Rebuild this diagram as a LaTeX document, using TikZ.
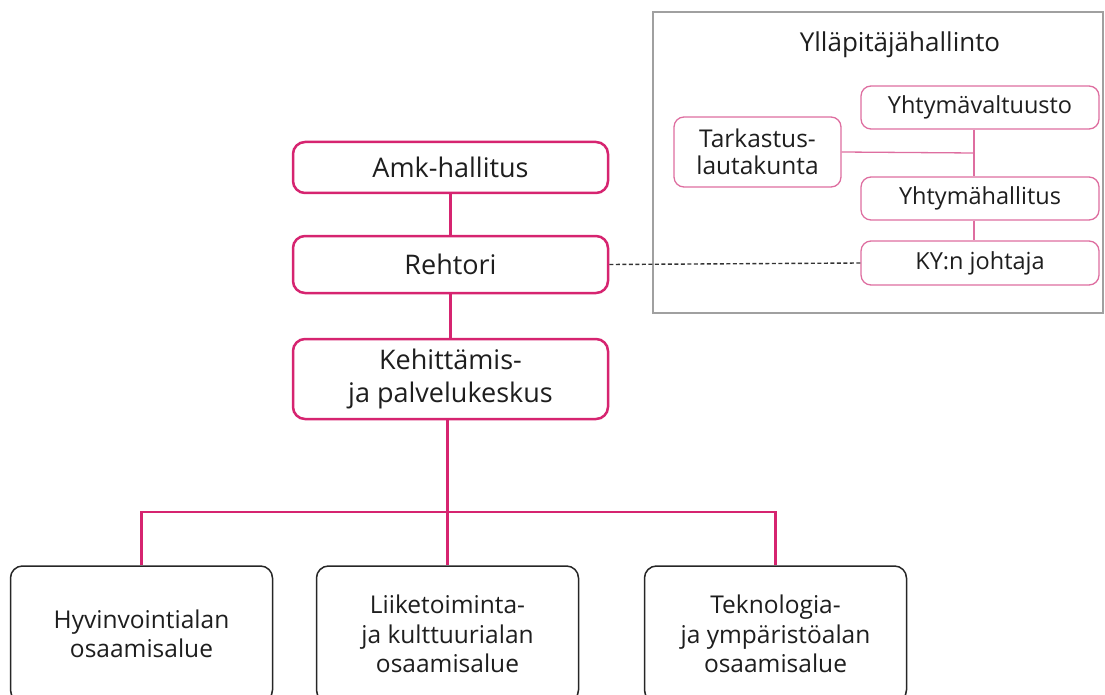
\documentclass[tikz,border=0pt]{standalone}
\usepackage{fontspec}
\setmainfont{Open Sans}
\definecolor{pinkline}{RGB}{214,36,112}
\definecolor{lightpink}{RGB}{222,110,160}
\definecolor{greybox}{RGB}{160,160,160}
\definecolor{txt}{RGB}{30,30,30}
\begin{document}
\begin{tikzpicture}[x=1pt,y=-1pt,
  mainbox/.style={draw=pinkline, line width=2.5pt, rounded corners=12pt, fill=white,
    minimum width=315pt, align=center, text=txt, inner sep=0pt,
    font=\fontsize{27}{33}\selectfont},
  subbox/.style={draw=lightpink, line width=1.3pt, rounded corners=10pt, fill=white,
    minimum width=238pt, minimum height=43pt, align=center, text=txt, inner sep=0pt,
    font=\fontsize{23.5}{27}\selectfont},
  areabox/.style={draw=black!85, line width=1.5pt, rounded corners=12pt, fill=white,
    minimum width=262pt, minimum height=136pt, align=center, text=txt, inner sep=0pt,
    font=\fontsize{24.5}{29.5}\selectfont},
  pinkconn/.style={draw=pinkline, line width=2.5pt},
  thinconn/.style={draw=lightpink, line width=1.3pt},
]
\useasboundingbox (0,0) rectangle (1105,695);
\clip (0,0) rectangle (1105,695);

% grey administration frame
\node[draw=greybox, line width=1.3pt, minimum width=450pt, minimum height=301pt, inner sep=0pt]
  (frame) at (878,162.5) {};
\node[text=txt, font=\fontsize{26}{30}\selectfont] (title) at (900,45) {Ylläpitäjähallinto};

% left column
\node[mainbox, minimum height=51pt] (amk) at (450.5,167.5) {Amk-hallitus};
\node[mainbox, minimum height=57pt] (reh) at (450.5,264.5) {Rehtori};
\node[mainbox, minimum height=80pt] (keh) at (450.5,379) {Kehittämis-\\ja palvelukeskus};

% right column
\node[subbox] (yv) at (980,107.5) {Yhtymävaltuusto};
\node[subbox, minimum width=167pt, minimum height=70pt, font=\fontsize{24.5}{27}\selectfont] (tark) at (757.5,152) {Tarkastus-\\lautakunta};
\node[subbox] (yh) at (980,198.5) {Yhtymähallitus};
\node[subbox, minimum height=44pt] (ky) at (980,263) {KY:n johtaja};

% bottom areas
\node[areabox] (a1) at (141.5,634) {Hyvinvointialan\\osaamisalue};
\node[areabox] (a2) at (447.5,634) {Liiketoiminta-\\ja kulttuurialan\\osaamisalue};
\node[areabox] (a3) at (775.5,634) {Teknologia-\\ja ympäristöalan\\osaamisalue};

% connectors
\coordinate (jn) at (974,153);
\coordinate (bus) at (447.5,512);
\draw[pinkconn] (amk) -- (reh);
\draw[pinkconn] (reh) -- (keh);
\draw[pinkconn] (keh.south -| bus) -- (bus);
\draw[pinkconn] (a1.north) |- (bus) -| (a3.north);
\draw[pinkconn] (bus) -- (a2.north);
\draw[thinconn] (yv.south -| jn) -- (yh.north -| jn);
\draw[thinconn] (tark.east) -- (jn);
\draw[thinconn] (yh.south -| jn) -- (ky.north -| jn);
\draw[dashed, dash pattern=on 4pt off 2.5pt, line width=1.4pt, black!80] (reh.east) -- (ky.west);
\end{tikzpicture}
\end{document}
